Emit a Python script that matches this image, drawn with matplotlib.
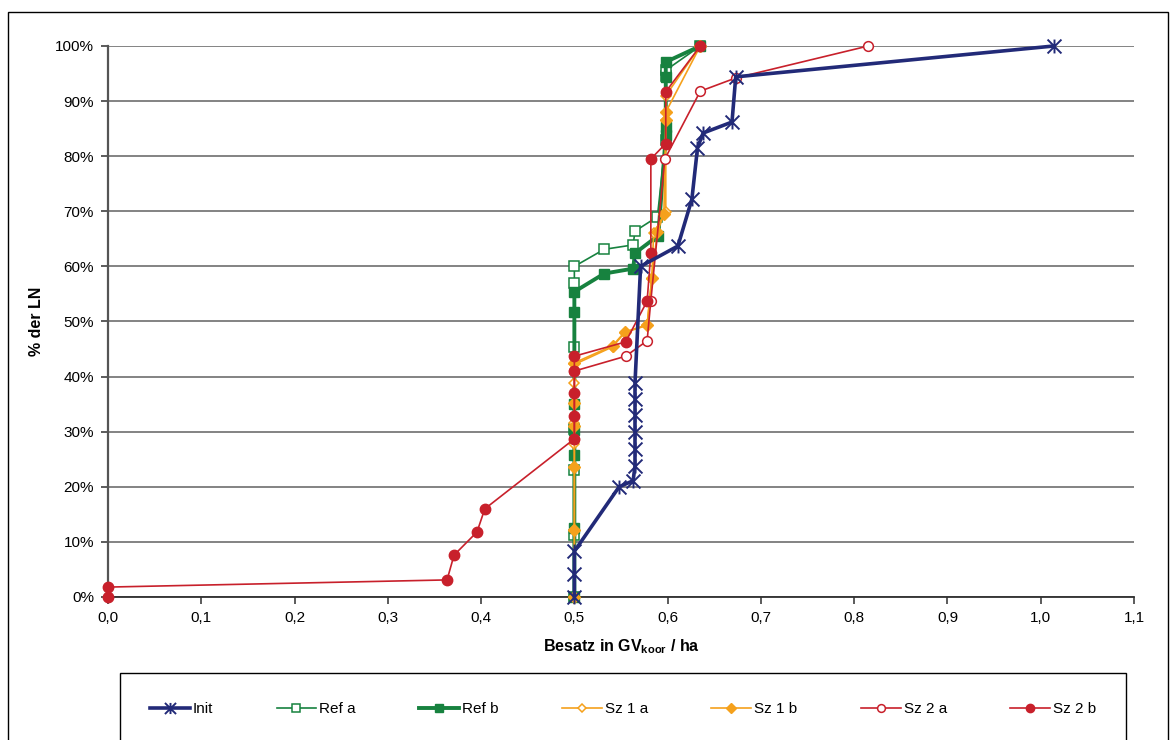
import matplotlib
matplotlib.use("Agg")
import matplotlib.pyplot as plt
from matplotlib.path import Path
from matplotlib.patches import Rectangle
from matplotlib.ticker import FuncFormatter, MultipleLocator

plt.rcParams['font.family'] = ['Liberation Sans', 'DejaVu Sans']
plt.rcParams['mathtext.fontset'] = 'custom'
plt.rcParams['mathtext.rm'] = 'Liberation Sans'
plt.rcParams['mathtext.bf'] = 'Liberation Sans:bold'

# data (x = GV/ha, y = % der LN)
init_x = [0.50, 0.50, 0.50, 0.548, 0.563, 0.565, 0.565, 0.565, 0.565, 0.565, 0.565,
          0.571, 0.611, 0.626, 0.632, 0.638, 0.669, 0.673, 1.014]
init_y = [0, 4.2, 8.3, 20.0, 21.1, 23.8, 26.9, 30.0, 33.0, 36.0, 38.8,
          60.0, 63.7, 72.2, 81.5, 84.2, 86.2, 94.4, 100]

refa_x = [0.5, 0.5, 0.5, 0.5, 0.5, 0.5, 0.5, 0.532, 0.563, 0.565, 0.589, 0.598, 0.598, 0.598, 0.635]
refa_y = [0, 11.3, 23.0, 30.5, 45.4, 57.0, 60.0, 63.1, 63.9, 66.4, 69.0, 83.0, 94.6, 95.6, 100]

refb_x = [0.5, 0.5, 0.5, 0.5, 0.5, 0.5, 0.5, 0.532, 0.563, 0.565, 0.590, 0.598, 0.598, 0.598, 0.598, 0.635]
refb_y = [0, 12.5, 25.8, 30.3, 35.0, 51.8, 55.4, 58.7, 59.6, 62.4, 65.6, 83.8, 85.3, 94.4, 97.1, 100]

sz1a_x = [0.5, 0.5, 0.5, 0.5, 0.5, 0.5, 0.5, 0.541, 0.554, 0.578, 0.583, 0.585, 0.598, 0.598, 0.598, 0.635]
sz1a_y = [0, 12.2, 23.6, 27.8, 31.6, 38.8, 42.2, 45.4, 48.0, 49.3, 57.8, 66.1, 69.9, 86.6, 91.0, 100]

sz1b_x = [0.5, 0.5, 0.5, 0.5, 0.5, 0.5, 0.541, 0.554, 0.578, 0.583, 0.589, 0.596, 0.598, 0.598, 0.635]
sz1b_y = [0, 12.2, 23.6, 31.0, 35.2, 42.5, 45.6, 48.1, 49.4, 57.9, 66.2, 69.5, 86.6, 88.0, 100]

sz2a_x = [0.5, 0.5, 0.555, 0.578, 0.582, 0.597, 0.635, 0.673, 0.815]
sz2a_y = [28.7, 41.0, 43.7, 46.5, 53.8, 79.5, 91.8, 94.2, 100]

sz2b_x = [0.0, 0.0, 0.3635, 0.371, 0.3956, 0.404, 0.5, 0.5, 0.5, 0.5, 0.5,
          0.555, 0.578, 0.582, 0.582, 0.598, 0.598, 0.635]
sz2b_y = [0, 1.8, 3.1, 7.6, 11.8, 16.0, 28.7, 32.8, 37.0, 41.0, 43.7,
          46.3, 53.7, 62.5, 79.5, 82.3, 91.7, 100]

navy = '#222a78'
green = '#17823f'
orange = '#f5a11c'
red = '#c8202b'

# excel-style star: X with a vertical bar
star = Path([(-1, -1), (1, 1), (-1, 1), (1, -1), (0, -1), (0, 1)],
            [Path.MOVETO, Path.LINETO, Path.MOVETO, Path.LINETO, Path.MOVETO, Path.LINETO])

fig = plt.figure(figsize=(11.76, 7.4), dpi=100)
ax = fig.add_axes([108 / 1176, 1 - 597 / 740, (1134 - 108) / 1176, (597 - 46) / 740])

ax.plot(refa_x, refa_y, color=green, lw=1.2, marker='s', ms=6.5, mfc='white',
        mec=green, mew=1.1, label='Ref a', clip_on=False, zorder=3)
ax.plot(refb_x, refb_y, color=green, lw=2.8, marker='s', ms=7, mfc=green,
        mec=green, label='Ref b', clip_on=False, zorder=3)
ax.plot(sz1a_x, sz1a_y, color=orange, lw=1.2, marker='D', ms=5.5, mfc='white',
        mec=orange, mew=1.1, label='Sz 1 a', clip_on=False, zorder=3)
ax.plot(sz1b_x, sz1b_y, color=orange, lw=1.2, marker='D', ms=6, mfc=orange,
        mec=orange, label='Sz 1 b', clip_on=False, zorder=3)
ax.plot(sz2a_x, sz2a_y, color=red, lw=1.2, marker='o', ms=7, mfc='white',
        mec=red, mew=1.1, label='Sz 2 a', clip_on=False, zorder=3)
ax.plot(sz2b_x, sz2b_y, color=red, lw=1.2, marker='o', ms=7.5, mfc=red,
        mec=red, label='Sz 2 b', clip_on=False, zorder=4)
ax.plot(init_x, init_y, color=navy, lw=2.6, marker=star, ms=10, mew=1.4,
        mfc='none', mec=navy, label='Init', clip_on=False, zorder=5)

ax.set_xlim(0, 1.1)
ax.set_ylim(0, 100)
ax.xaxis.set_major_locator(MultipleLocator(0.1))
ax.yaxis.set_major_locator(MultipleLocator(10))
ax.xaxis.set_major_formatter(FuncFormatter(lambda v, p: f"{v:.1f}".replace('.', ',')))
ax.yaxis.set_major_formatter(FuncFormatter(lambda v, p: f"{v:.0f}%"))
ax.tick_params(axis='both', labelsize=11, direction='out', length=5, width=1.2,
               colors='#404040', labelcolor='black')
ax.tick_params(axis='y', pad=5)
ax.tick_params(axis='x', pad=5)

ax.yaxis.grid(True, color='#7a7a7a', lw=1.3)
ax.set_axisbelow(True)
for s in ['top', 'right']:
    ax.spines[s].set_visible(False)
ax.spines['left'].set_color('#555555')
ax.spines['left'].set_linewidth(1.6)
ax.spines['bottom'].set_color('#303030')
ax.spines['bottom'].set_linewidth(1.3)

ax.set_ylabel("% der LN", fontsize=11.5, fontweight='bold', labelpad=8)
ax.set_xlabel(r"Besatz in GV$_{\mathbf{koor}}$ / ha", fontsize=11.5,
              fontweight='bold', labelpad=9)

# outer chart border and legend box (both run off the bottom edge)
fig.add_artist(Rectangle((8 / 1176, -0.02), (1168 - 8) / 1176, (740 - 12) / 740 + 0.02,
                         transform=fig.transFigure, fill=False, ec='black', lw=1))
fig.add_artist(Rectangle((120 / 1176, -0.02), (1126 - 120) / 1176, (740 - 673) / 740 + 0.02,
                         transform=fig.transFigure, fill=False, ec='black', lw=1))

handles, labels = ax.get_legend_handles_labels()
order = [6, 0, 1, 2, 3, 4, 5]
fig.legend([handles[i] for i in order], [labels[i] for i in order], ncol=7,
           loc='center left', bbox_to_anchor=(150 / 1176, 1 - 709 / 740), frameon=False,
           fontsize=11, handlelength=2.6, handletextpad=0.2, columnspacing=4.15,
           borderpad=0, borderaxespad=0, markerscale=0.8)

fig.savefig("out.png", dpi=100)
